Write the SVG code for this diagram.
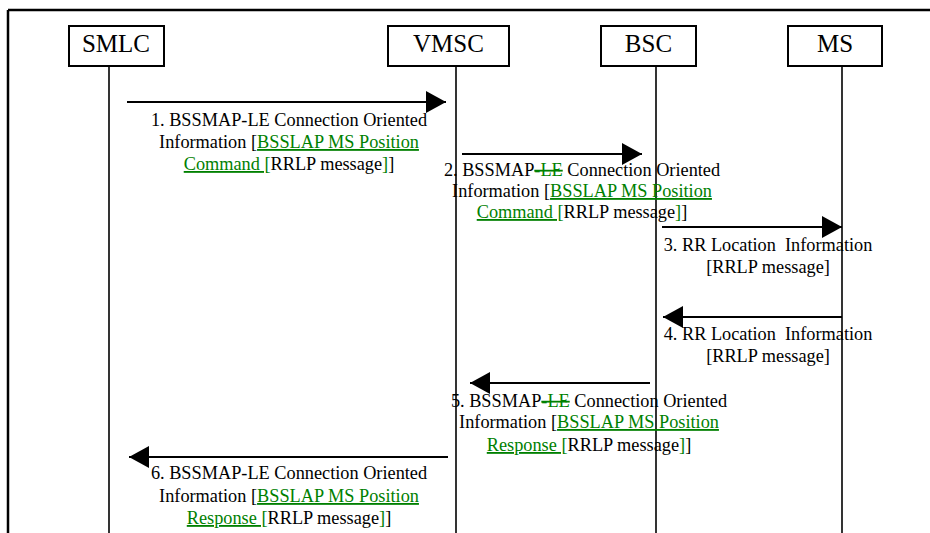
<svg xmlns="http://www.w3.org/2000/svg" width="930" height="533" viewBox="0 0 930 533">
<style>
.box{fill:#fff;stroke:#000;stroke-width:2}
.life{stroke:#000;stroke-width:1.6}
.msg{stroke:#000;stroke-width:2;fill:none}
text{font-family:'Liberation Serif','DejaVu Serif',serif}
.nt{font-size:25px;fill:#000;text-anchor:middle}
.lb{font-size:18.3px;fill:#000;text-anchor:middle;white-space:pre}
.g{fill:#008000;text-decoration:underline}
.s{fill:#008000;text-decoration:line-through}
</style>
<defs>
<marker id="ah" markerUnits="userSpaceOnUse" markerWidth="22" markerHeight="24" refX="20" refY="11" orient="auto">
<path d="M0,0 L20,11 L0,22 Z" fill="#000"/>
</marker>
</defs>
<g id="frame">
<line x1="8" y1="10" x2="930" y2="10" stroke="#000" stroke-width="2.5"/>
<line x1="8" y1="10" x2="8" y2="533" stroke="#000" stroke-width="2.5"/>
</g>
<g id="SMLC">
<line class="life" x1="109" y1="66" x2="109" y2="533"/>
<rect class="box" x="69" y="26" width="95" height="40"/>
<text class="nt" x="116" y="52">SMLC</text>
</g>
<g id="VMSC">
<line class="life" x1="456" y1="66" x2="456" y2="533"/>
<rect class="box" x="388" y="26" width="121" height="40"/>
<text class="nt" x="448.5" y="52">VMSC</text>
</g>
<g id="BSC">
<line class="life" x1="656" y1="66" x2="656" y2="533"/>
<rect class="box" x="601" y="26" width="95" height="40"/>
<text class="nt" x="648.5" y="52">BSC</text>
</g>
<g id="MS">
<line class="life" x1="842" y1="66" x2="842" y2="533"/>
<rect class="box" x="788" y="26" width="94" height="40"/>
<text class="nt" x="835" y="52">MS</text>
</g>
<g id="connectors">
<line class="msg" x1="127" y1="102" x2="446" y2="102" marker-end="url(#ah)"/>
<line class="msg" x1="462" y1="154" x2="642" y2="154" marker-end="url(#ah)"/>
<line class="msg" x1="662" y1="227" x2="842" y2="227" marker-end="url(#ah)"/>
<line class="msg" x1="842" y1="317" x2="663" y2="317" marker-end="url(#ah)"/>
<line class="msg" x1="650" y1="383" x2="470" y2="383" marker-end="url(#ah)"/>
<line class="msg" x1="448" y1="457" x2="129" y2="457" marker-end="url(#ah)"/>
</g>
<g id="labels">
<text class="lb" x="289" y="126">1. BSSMAP-LE Connection Oriented</text>
<text class="lb" x="289" y="148">Information [<tspan class="g">BSSLAP MS Position</tspan></text>
<text class="lb" x="289" y="170"><tspan class="g">Command [</tspan>RRLP message<tspan class="g">]</tspan>]</text>

<text class="lb" x="582" y="176">2. BSSMAP<tspan class="s">-LE</tspan> Connection Oriented</text>
<text class="lb" x="582" y="197">Information [<tspan class="g">BSSLAP MS Position</tspan></text>
<text class="lb" x="582" y="218"><tspan class="g">Command [</tspan>RRLP message<tspan class="g">]</tspan>]</text>

<text class="lb" x="768" y="251">3. RR Location  Information</text>
<text class="lb" x="768" y="273">[RRLP message]</text>

<text class="lb" x="768" y="340">4. RR Location  Information</text>
<text class="lb" x="768" y="362">[RRLP message]</text>

<text class="lb" x="589" y="407">5. BSSMAP<tspan class="s">-LE</tspan> Connection Oriented</text>
<text class="lb" x="589" y="428">Information [<tspan class="g">BSSLAP MS Position</tspan></text>
<text class="lb" x="589" y="451"><tspan class="g">Response [</tspan>RRLP message<tspan class="g">]</tspan>]</text>

<text class="lb" x="289" y="479">6. BSSMAP-LE Connection Oriented</text>
<text class="lb" x="289" y="502">Information [<tspan class="g">BSSLAP MS Position</tspan></text>
<text class="lb" x="289" y="524"><tspan class="g">Response [</tspan>RRLP message<tspan class="g">]</tspan>]</text>
</g>
</svg>
